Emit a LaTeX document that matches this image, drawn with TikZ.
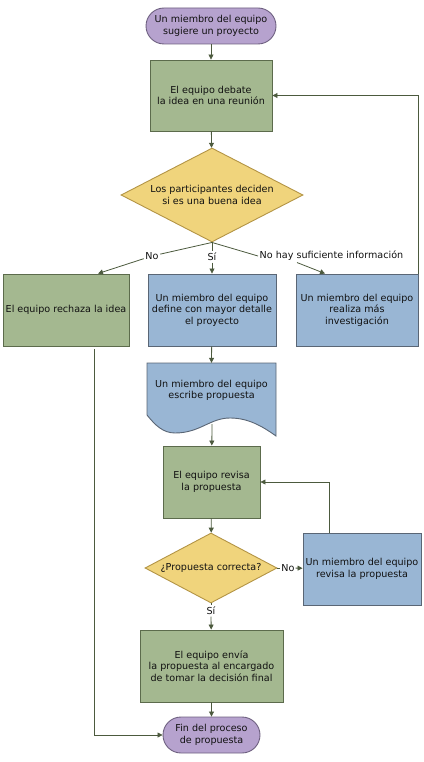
\documentclass[tikz,border=0pt]{standalone}
\usepackage{fontspec}
\setmainfont{DejaVu Sans}
\usetikzlibrary{shapes.geometric,arrows.meta}
\definecolor{boxgreen}{HTML}{A4B890}
\definecolor{greenline}{HTML}{5C6B4C}
\definecolor{boxblue}{HTML}{99B6D4}
\definecolor{blueline}{HTML}{5A6675}
\definecolor{boxpurple}{HTML}{B6A2CE}
\definecolor{purpleline}{HTML}{6E6080}
\definecolor{boxyellow}{HTML}{F0D47C}
\definecolor{yellowline}{HTML}{B39445}
\definecolor{arrowline}{HTML}{4C5A3E}
\definecolor{txt}{HTML}{111111}
\begin{document}
\begin{tikzpicture}[x=1pt,y=-1pt,
  every node/.style={font=\fontsize{9.6}{11.5}\selectfont,text=txt},
  greenbox/.style={draw=greenline,fill=boxgreen,line width=0.9pt,rectangle,align=center,minimum height=72pt,inner sep=2pt},
  bluebox/.style={draw=blueline,fill=boxblue,line width=0.9pt,rectangle,align=center,minimum height=72pt,inner sep=2pt},
  terminal/.style={draw=purpleline,fill=boxpurple,line width=0.9pt,rectangle,rounded corners=18pt,align=center,minimum height=36pt,inner sep=2pt},
  decision/.style={draw=yellowline,fill=boxyellow,line width=0.9pt,diamond,align=center,inner sep=0pt},
  branch/.style={inner sep=1.5pt,fill=white},
  link/.style={draw=arrowline,line width=0.8pt},
  flow/.style={link,-{Triangle[length=5pt,width=5pt]}}]
\useasboundingbox (0,0) rectangle (423,762);
% main column
\node[terminal,minimum width=130pt] (start) at (211,26) {Un miembro del equipo\\sugiere un proyecto};
\node[greenbox,minimum width=122pt,minimum height=71pt] (debate) at (211,95.5) {El equipo debate\\la idea en una reunión};
\node[decision,aspect=1.95,minimum width=182pt,minimum height=94pt] (decide) at (212,195) {Los participantes deciden\\si es una buena idea};
\node[greenbox,minimum width=126pt] (rechaza) at (66,310) {El equipo rechaza la idea};
\node[bluebox,minimum width=128pt] (define) at (212,310) {Un miembro del equipo\\define con mayor detalle\\el proyecto};
\node[bluebox,minimum width=122pt] (investiga) at (357,310) {Un miembro del equipo\\realiza más\\investigación};
% document shape
\draw[draw=blueline,fill=boxblue,line width=0.9pt] (147,363) -- (276,363) -- (276,436)
  .. controls (262,426) and (248,418) .. (230,418)
  .. controls (210,418) and (200,433) .. (175,433)
  .. controls (163,433) and (155,425) .. (147,415) -- cycle;
\node[align=center,minimum width=129pt,minimum height=55pt,inner sep=0pt] (escribe) at (211.5,390.5) {Un miembro del equipo\\escribe propuesta};
\coordinate (escribebot) at (212,424);
\node[greenbox,minimum width=97pt] (revisa) at (211.5,482) {El equipo revisa\\la propuesta};
\node[decision,aspect=1.9,minimum width=132pt,minimum height=70pt] (correcta) at (211,568) {¿Propuesta correcta?};
\node[bluebox,minimum width=118pt] (revisap) at (362,569) {Un miembro del equipo\\revisa la propuesta};
\node[greenbox,minimum width=143pt] (envia) at (211.5,666) {El equipo envía\\la propuesta al encargado\\de tomar la decisión final};
\node[terminal,minimum width=97pt] (fin) at (211.5,735) {Fin del proceso\\de propuesta};
% branch labels
\node[branch] (lno) at (152,256) {No};
\node[branch] (lsi) at (212,257) {Sí};
\node[branch,anchor=west] (lnohay) at (258,256) {No hay suficiente información};
\node[branch,inner sep=1pt] (lno2) at (288,568) {No};
\node[branch] (lsi2) at (211,611) {Sí};
% connectors
\draw[flow] (start) -- (debate);
\draw[flow] (debate) -- (decide);
\draw[link] (decide.south) -- (lno);
\draw[flow] (lno) -- ([xshift=32pt]rechaza.north);
\draw[link] (decide.south) -- (lsi);
\draw[flow] (lsi) -- (define);
\draw[link] (decide.south) -- (lnohay.west);
\draw[flow] ([xshift=39pt]lnohay.south west) -- ([xshift=-32pt]investiga.north);
\draw[flow] (investiga.north east) |- (debate.east);
\draw[flow] (define) -- (escribe.north);
\draw[flow] (escribebot) -- (revisa);
\draw[flow] (revisa) -- (correcta);
\draw[link] (correcta.east) -- (lno2);
\draw[flow] (lno2) -- (revisap);
\draw[flow] ([xshift=-33pt]revisap.north) |- (revisa.east);
\draw[link] (correcta.south) -- (lsi2);
\draw[flow] (lsi2) -- (envia);
\draw[flow] (envia) -- (fin);
\draw[flow] ([xshift=28pt,yshift=-3pt]rechaza.south) |- (fin.west);
\end{tikzpicture}
\end{document}
